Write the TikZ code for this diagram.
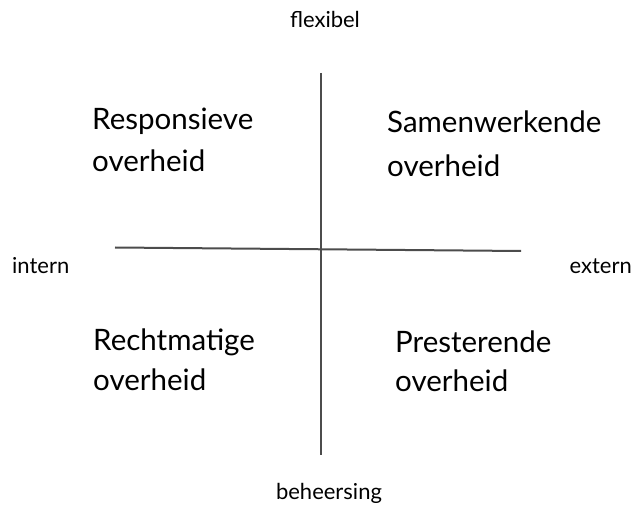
\documentclass[tikz,border=0pt]{standalone}
\usepackage{fontspec}
\setmainfont{Lato}
\begin{document}
\begin{tikzpicture}[x=1pt,y=-1pt,
  axis/.style={draw=black!70,line width=2pt},
  big/.style={anchor=base west,inner sep=0pt,font=\fontsize{29.5}{32}\selectfont,text=black},
  small/.style={anchor=base,inner sep=0pt,font=\fontsize{22}{24}\selectfont,text=black}]
\useasboundingbox (0,0) rectangle (639,510);
\coordinate (vt) at (320.5,73);
\coordinate (vb) at (320.5,455);
\coordinate (hl) at (115,247.5);
\coordinate (hr) at (521,251);
\draw[axis] (vt) -- (vb);
\draw[axis] (hl) -- (hr);
\node[small] (flex) at (325,28) {flexibel};
\node[small] (beh) at (329,499) {beheersing};
\node[small,anchor=base west] (int) at (12,274) {intern};
\node[small,anchor=base east] (ext) at (632,274) {extern};
\node[big] (r1) at (92,130) {Responsieve};
\node[big] (r2) at (92,172) {overheid};
\node[big] (s1) at (387,133) {Samenwerkende};
\node[big] (s2) at (387,177) {overheid};
\node[big] (c1) at (93,350) {Rechtmatige};
\node[big] (c2) at (93,390) {overheid};
\node[big] (p1) at (395,352) {Presterende};
\node[big] (p2) at (395,391) {overheid};
\end{tikzpicture}
\end{document}
